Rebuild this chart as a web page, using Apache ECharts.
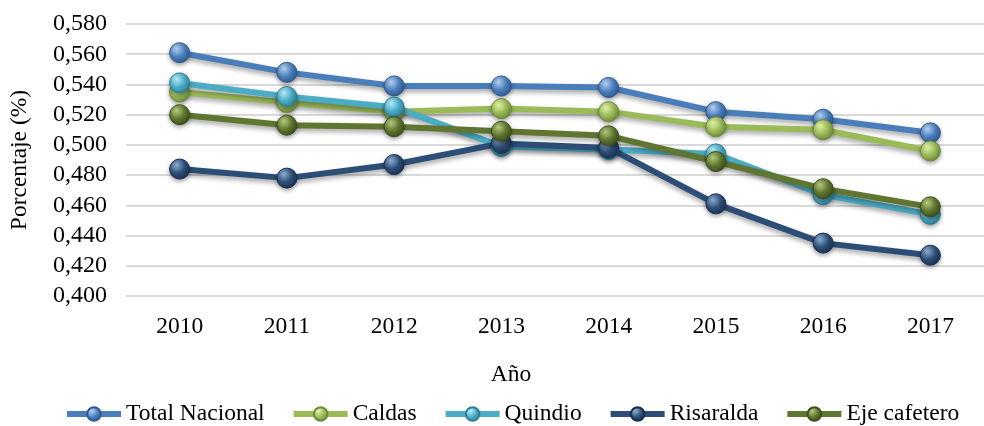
<!DOCTYPE html>
<html>
<head>
<meta charset="utf-8">
<script src="https://cdn.jsdelivr.net/npm/echarts@6/dist/echarts.min.js"></script>
<style>
  html, body { margin: 0; padding: 0; background: #fff; }
  #chart { width: 984px; height: 426px; }
</style>
</head>
<body>
<div id="chart"></div>
<script>
var years = ['2010', '2011', '2012', '2013', '2014', '2015', '2016', '2017'];
var totalNacional = [0.561, 0.548, 0.539, 0.539, 0.538, 0.522, 0.517, 0.508];
var caldas        = [0.535, 0.528, 0.522, 0.524, 0.522, 0.512, 0.510, 0.496];
var quindio       = [0.541, 0.532, 0.525, 0.499, 0.497, 0.494, 0.467, 0.454];
var risaralda     = [0.484, 0.478, 0.487, 0.501, 0.498, 0.461, 0.435, 0.427];
var ejeCafetero   = [0.520, 0.513, 0.512, 0.509, 0.506, 0.489, 0.471, 0.459];

var chart = echarts.init(document.getElementById('chart'));

// bolita con brillo
function ball(light, base, dark) {
    return new echarts.graphic.RadialGradient(0.35, 0.3, 0.75, [
        { offset: 0, color: light },
        { offset: 0.55, color: base },
        { offset: 1, color: dark }
    ]);
}

function serie(name, data, color, light, dark) {
    return {
        name: name,
        type: 'line',
        data: data,
        symbol: 'circle',
        symbolSize: 20,
        z: 2,
        lineStyle: {
            width: 6,
            color: color,
            shadowColor: 'rgba(0,0,0,0.35)',
            shadowBlur: 5,
            shadowOffsetY: 3
        },
        itemStyle: {
            color: ball(light, color, dark),
            borderColor: dark,
            borderWidth: 1,
            shadowColor: 'rgba(0,0,0,0.35)',
            shadowBlur: 4,
            shadowOffsetY: 2
        },
        emphasis: { disabled: true }
    };
}

var font = 'Liberation Serif';

chart.setOption({
    animation: false,
    backgroundColor: '#fff',
    textStyle: { fontFamily: font },
    grid: { left: 116, right: -27, top: 24, bottom: 130 },
    legend: {
        bottom: 0,
        left: 64,
        padding: 0,
        itemWidth: 54,
        itemHeight: 17,
        itemGap: 26,
        lineStyle: { width: 6 },
        textStyle: { fontFamily: font, fontSize: 23.5, color: '#000' },
        data: ['Total Nacional', 'Caldas', 'Quindio', 'Risaralda', 'Eje cafetero']
    },
    xAxis: {
        type: 'category',
        data: years,
        name: 'Año',
        nameLocation: 'middle',
        nameGap: 67,
        // el gráfico original centra el título en la parte visible
        nameTextStyle: { fontFamily: font, fontSize: 23.5, color: '#000', padding: [0, 88, 0, 0] },
        axisLine: { show: false },
        axisTick: { show: false },
        axisLabel: { fontFamily: font, fontSize: 23.5, color: '#000', margin: 19 }
    },
    yAxis: {
        type: 'value',
        min: 0.4,
        max: 0.58,
        interval: 0.02,
        name: 'Porcentaje (%)',
        nameLocation: 'middle',
        nameGap: 94,
        nameTextStyle: { fontFamily: font, fontSize: 23.5, color: '#000' },
        axisLabel: {
            fontFamily: font, fontSize: 24, color: '#000', margin: 19,
            formatter: function (v) { return v.toFixed(3).replace('.', ','); }
        },
        splitLine: { lineStyle: { color: '#d9d9d9', width: 2 } }
    },
    series: [
        serie('Total Nacional', totalNacional, '#4a7ebb', '#b7d3f5', '#2f5b91'),
        serie('Caldas', caldas, '#9bbb59', '#e3f5a8', '#6f8a3a'),
        serie('Quindio', quindio, '#4bacc6', '#b8f0ff', '#2e7f96'),
        serie('Risaralda', risaralda, '#2c4d75', '#8fb0d6', '#1a3150'),
        serie('Eje cafetero', ejeCafetero, '#5f7530', '#b7cf7e', '#3e4e1d')
    ]
});
</script>
</body>
</html>
